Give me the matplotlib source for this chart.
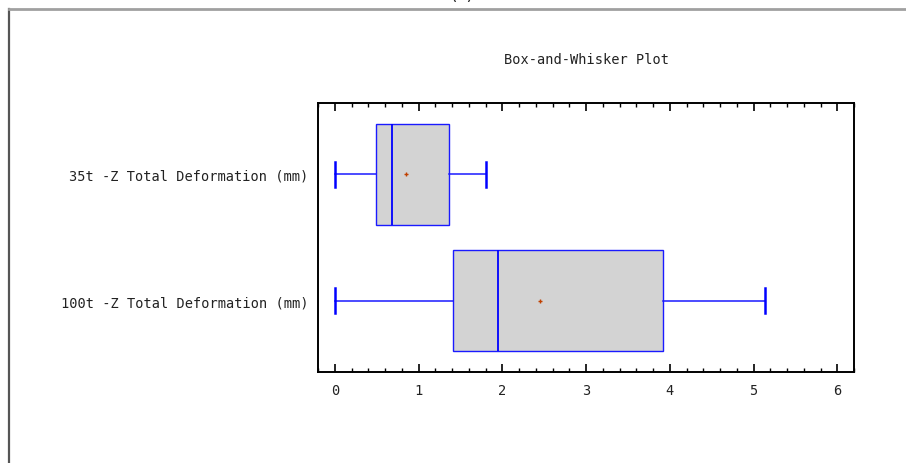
import matplotlib
matplotlib.use("Agg")
import matplotlib.pyplot as plt
from matplotlib.lines import Line2D
from matplotlib.ticker import MultipleLocator

categories = ["35t -Z Total Deformation (mm)", "100t -Z Total Deformation (mm)"]
whislo = [0.0, 0.0]
q1 = [0.49, 1.41]
med = [0.68, 1.95]
q3 = [1.37, 3.92]
whishi = [1.80, 5.14]
means = [0.855, 2.45]
xticks = [0, 1, 2, 3, 4, 5, 6]

FONT = "DejaVu Sans Mono"
FS = 9.8

fig = plt.figure(figsize=(9.06, 4.64), dpi=100)
fig.patch.set_facecolor("white")
ax = fig.add_axes([318 / 906, 1 - 373 / 464, (854 - 318) / 906, (373 - 104) / 464])

stats = []
for i, c in enumerate(categories):
    stats.append(dict(label=c, whislo=whislo[i], q1=q1[i], med=med[i],
                      q3=q3[i], whishi=whishi[i], mean=means[i], fliers=[]))

positions = list(range(1, len(categories) + 1))
ax.bxp(stats, positions=positions, orientation="horizontal", widths=0.8,
       patch_artist=True, showmeans=True, showfliers=False,
       boxprops=dict(facecolor="#d3d3d3", edgecolor="#1a1aff", linewidth=1.0),
       medianprops=dict(color="#0000ff", linewidth=1.3),
       whiskerprops=dict(color="#1a1aff", linewidth=1.1),
       capprops=dict(color="#0000ff", linewidth=1.8),
       capwidths=0.2,
       meanprops=dict(marker="+", markeredgecolor="#c04000", markersize=3,
                      markeredgewidth=1.0))

ax.set_ylim(2.565, 0.435)
ax.set_xlim(-0.2, 6.2)
ax.set_xticks(xticks)
ax.set_xticklabels([str(t) for t in xticks], fontfamily=FONT, fontsize=FS,
                   color="#222222")
ax.xaxis.set_minor_locator(MultipleLocator(0.2))
ax.tick_params(axis="x", which="major", direction="in", top=True, bottom=True,
               length=6, width=1.2, pad=8)
ax.tick_params(axis="x", which="minor", direction="in", top=True, bottom=True,
               length=3, width=1.0)
ax.set_yticks(positions)
ax.set_yticklabels(categories, fontfamily=FONT, fontsize=FS, color="#222222")
ax.tick_params(axis="y", length=0, pad=7)
for s in ax.spines.values():
    s.set_linewidth(1.4)
    s.set_color("black")

fig.text(586 / 906, 1 - 60 / 464, "Box-and-Whisker Plot", ha="center", va="center",
         fontfamily=FONT, fontsize=FS, color="#222222")

# container frame
fig.add_artist(Line2D([9 / 906, 9 / 906], [0, 1 - 10 / 464], color="#555555",
                      linewidth=1.6, transform=fig.transFigure))
fig.add_artist(Line2D([9 / 906, 1], [1 - 10 / 464, 1 - 10 / 464], color="#a0a0a0",
                      linewidth=2.0, transform=fig.transFigure))
fig.text(462 / 906, 1 + 5 / 464, "(a)", ha="center", va="center",
         fontfamily="DejaVu Sans", fontsize=12, color="#222222")

fig.savefig("out.png", dpi=100, facecolor="white")
